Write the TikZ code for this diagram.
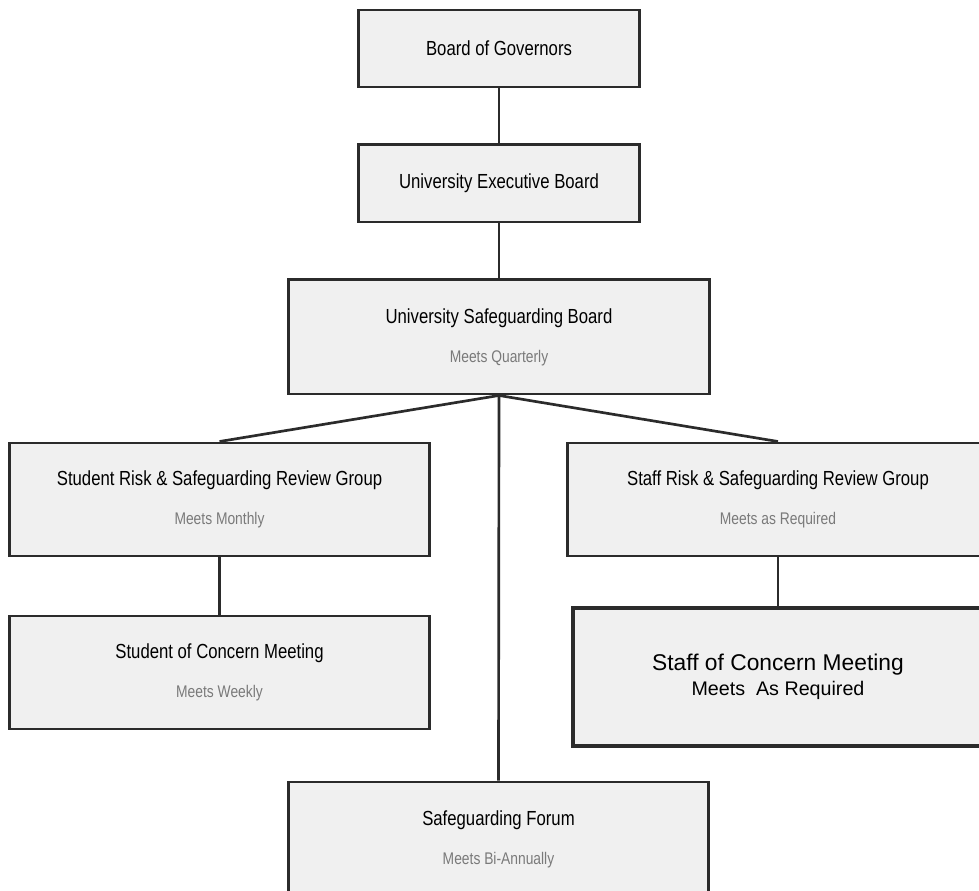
\documentclass[tikz,border=0pt]{standalone}
\usepackage{fontspec}
\setmainfont{Liberation Sans}
\newfontfamily\narrowsans[FakeStretch=0.82]{Liberation Sans}
\usetikzlibrary{positioning}

\definecolor{boxfill}{HTML}{F0F0F0}
\definecolor{boxline}{HTML}{2B2B2B}
\definecolor{meetgray}{HTML}{7A7A7A}

\newcommand{\meets}[1]{{\fontsize{12}{14}\selectfont\color{meetgray}#1}}

\tikzset{
    board/.style={draw=boxline, fill=boxfill, line width=2.1pt, align=center, inner sep=0pt,
        font=\narrowsans\fontsize{14.5}{17}\selectfont},
    link/.style={draw=boxline, line width=1.9pt}
}

\begin{document}
\begin{tikzpicture}[x=0.025cm, y=-0.025cm]
    \useasboundingbox (0,0) rectangle (979,891);
    \clip (0,0) rectangle (979,891);

    \node [board, minimum width=7cm, minimum height=1.925cm] (governors) at (499,48.5) {Board of Governors};
    \node [board, minimum width=7cm, minimum height=1.925cm] (executive) [below=1.375cm of governors] {University Executive Board};
    \node [board, minimum width=10.5cm, minimum height=2.85cm] (safeboard) [below=1.375cm of executive] {University Safeguarding Board\\[10.7pt]\meets{Meets Quarterly}};

    \node [board, minimum width=10.475cm, minimum height=2.825cm] (studentgroup) at (219.5,499.5) {Student Risk \& Safeguarding Review Group\\[10.7pt]\meets{Meets Monthly}};
    \node [board, minimum width=10.475cm, minimum height=2.825cm] (studentmeet) [below=1.425cm of studentgroup] {Student of Concern Meeting\\[10.7pt]\meets{Meets Weekly}};

    \node [board, minimum width=10.5cm, minimum height=2.825cm] (staffgroup) at (778,499.5) {Staff Risk \& Safeguarding Review Group\\[10.7pt]\meets{Meets as Required}};
    \node [board, line width=2.9pt, minimum width=10.25cm, minimum height=3.45cm, font=\fontsize{16.2}{19}\selectfont] (staffmeet) [below=1.2cm of staffgroup] {Staff of Concern Meeting\\[-1.5pt]{\fontsize{14}{16}\selectfont Meets\ \ As Required}};

    \node [board, minimum width=10.475cm, minimum height=2.85cm] (forum) at (498.5,839) {Safeguarding Forum\\[10.7pt]\meets{Meets Bi-Annually}};

    \draw [link] (governors) -- (executive);
    \draw [link] (executive) -- (safeboard);
    \draw [link] (safeboard.south) -- (studentgroup.north);
    \draw [link] (safeboard.south) -- (staffgroup.north);
    \draw [link] (safeboard.south) -- (forum.north);
    \draw [link] (studentgroup) -- (studentmeet);
    \draw [link] (staffgroup) -- (staffmeet);
\end{tikzpicture}
\end{document}
